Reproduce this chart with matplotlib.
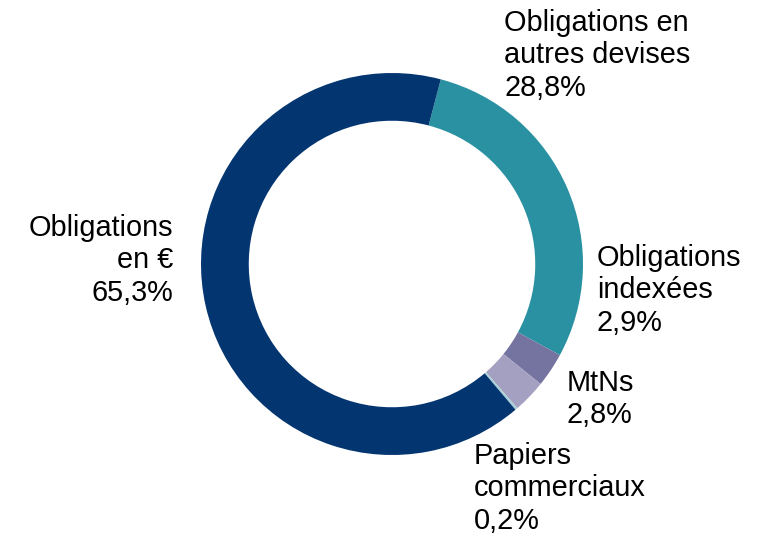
import matplotlib.pyplot as plt

# slices, clockwise from the top
labels = ["Obligations en\nautres devises", "Obligations\nindexées", "MtNs",
          "Papiers\ncommerciaux", "Obligations\nen €"]
shares = [28.8, 2.9, 2.8, 0.2, 65.3]
colors = ["#2991a1", "#7574a1", "#a4a0c1", "#a8d0d8", "#033570"]

# label anchor (pixels from left / from top) and alignment
label_pos = [(504, 9), (597, 244), (567, 369), (474, 442), (173, 214)]
label_ha = ["left", "left", "left", "left", "right"]

W, H = 777, 535
plt.rcParams["font.family"] = ["Liberation Sans", "DejaVu Sans"]

fig = plt.figure(figsize=(W / 100, H / 100), dpi=100)
cx, cy, r = 392, 264, 191
ax = fig.add_axes([(cx - r) / W, (H - cy - r) / H, 2 * r / W, 2 * r / H])
ax.pie(shares, colors=colors, startangle=75.2, counterclock=False,
       wedgeprops=dict(width=0.25, linewidth=0))
ax.set_xlim(-1, 1)
ax.set_ylim(-1, 1)
ax.set_aspect("equal")
ax.axis("off")

for lab, val, (px, py), ha in zip(labels, shares, label_pos, label_ha):
    txt = f"{lab}\n{val:.1f}%".replace(".", ",")
    fig.text(px / W, 1 - py / H, txt, ha=ha, va="top", multialignment=ha,
             fontsize=20.8, linespacing=1.2, color="black")

fig.savefig("out.png", dpi=100)
